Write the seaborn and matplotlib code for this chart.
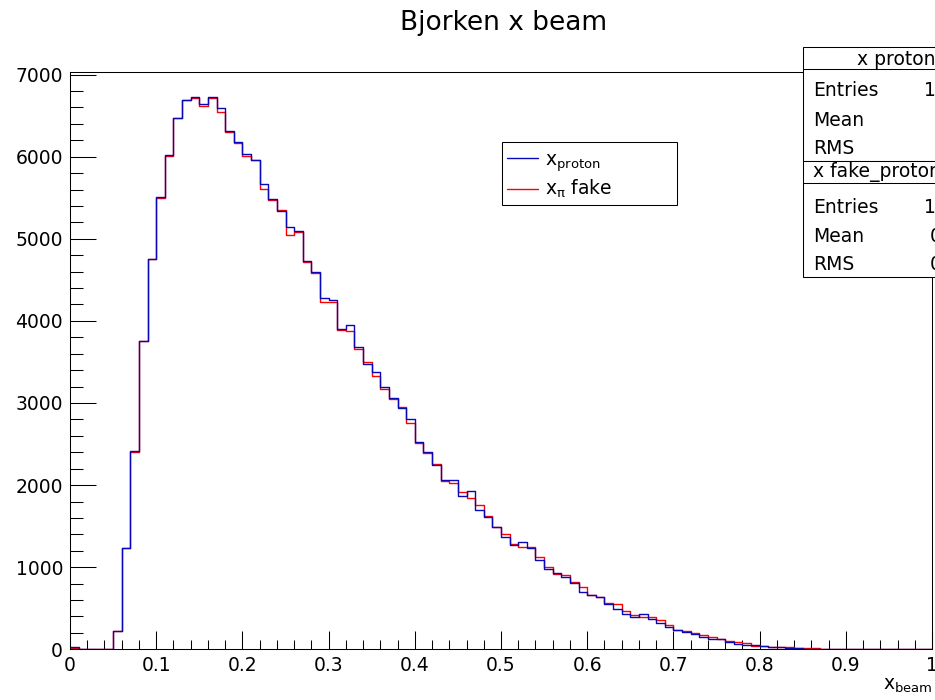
import numpy as np
import pandas as pd
import matplotlib
matplotlib.use("Agg")
import matplotlib.pyplot as plt
import seaborn as sns
from matplotlib.patches import Rectangle
from matplotlib.lines import Line2D
from matplotlib.ticker import MultipleLocator

# ---------------- data ----------------
n_bins = 100
x_min, x_max = 0.0, 1.0

proton_counts = [
    22, 6, 6, 6, 8, 223, 1239, 2410, 3760, 4756,
    5510, 6016, 6471, 6687, 6727, 6646, 6727, 6593, 6317, 6183,
    6037, 5960, 5664, 5485, 5343, 5147, 5095, 4735, 4593, 4276,
    4260, 3902, 3955, 3678, 3479, 3373, 3199, 3065, 2939, 2800,
    2524, 2398, 2244, 2065, 2065, 1870, 1932, 1692, 1617, 1495,
    1366, 1276, 1312, 1235, 1089, 979, 934, 886, 812, 699,
    658, 634, 552, 488, 430, 398, 427, 366, 320, 275,
    232, 205, 190, 154, 126, 130, 85, 65, 53, 49,
    37, 33, 24, 16, 12, 8, 4, 2, 1, 0,
    0, 0, 0, 0, 0, 0, 0, 0, 0, 0,
]
fake_counts = [
    20, 6, 6, 6, 8, 220, 1228, 2400, 3755, 4749,
    5498, 6008, 6468, 6690, 6711, 6617, 6719, 6549, 6305, 6163,
    6009, 5960, 5607, 5473, 5351, 5050, 5080, 4715, 4585, 4227,
    4235, 3894, 3882, 3662, 3504, 3333, 3171, 3044, 2955, 2751,
    2516, 2390, 2251, 2049, 2024, 1912, 1841, 1753, 1626, 1495,
    1402, 1284, 1248, 1251, 1129, 1007, 914, 906, 817, 763,
    666, 634, 568, 552, 471, 422, 398, 398, 360, 300,
    232, 222, 202, 175, 146, 122, 106, 89, 73, 45,
    45, 33, 24, 24, 20, 16, 12, 8, 6, 0,
    0, 0, 0, 0, 0, 0, 0, 0, 0, 0,
]

xtick_values = [0.0, 0.1, 0.2, 0.3, 0.4, 0.5, 0.6, 0.7, 0.8, 0.9, 1.0]
xtick_labels = ["0", "0.1", "0.2", "0.3", "0.4", "0.5", "0.6", "0.7", "0.8", "0.9", "1"]
ytick_values = [0, 1000, 2000, 3000, 4000, 5000, 6000, 7000]
ytick_labels = ["0", "1000", "2000", "3000", "4000", "5000", "6000", "7000"]

title_text = "Bjorken x beam"
xlabel_text = r"$\mathregular{x_{beam}}$"
legend_labels = [r"$\mathregular{x_{proton}}$", r"$\mathregular{x_{\pi}}$ fake"]
stats_titles = ["x proton", "x fake_proton"]
stats_rows = ["Entries", "Mean", "RMS"]
stats_values = [["100000", "0.3101", "0.1431"], ["100000", "0.3123", "0.1462"]]

# ---------------- style ----------------
sns.set_style("ticks")
plt.rcParams["font.family"] = ["DejaVu Sans"]
plt.rcParams["mathtext.fontset"] = "dejavusans"
plt.rcParams["text.color"] = "black"
plt.rcParams["axes.labelcolor"] = "black"
plt.rcParams["xtick.color"] = "black"
plt.rcParams["ytick.color"] = "black"
plt.rcParams["xtick.labelcolor"] = "black"
plt.rcParams["ytick.labelcolor"] = "black"

W, H = 935, 700
def fx(px):
    return px / W
def fy(py):
    return 1 - py / H

blue = "#0808b8"
red = "#ff0000"
lw = 1.0
fs = 13.5

fig = plt.figure(figsize=(W / 100, H / 100), dpi=100)
ax_left, ax_right, ax_top, ax_bottom = 70, 932, 71.7, 649.3
ax = fig.add_axes([fx(ax_left), fy(ax_bottom), fx(ax_right) - fx(ax_left),
                   fy(ax_top) - fy(ax_bottom)])

bin_width = (x_max - x_min) / n_bins
centers = x_min + bin_width * (np.arange(n_bins) + 0.5)
df = pd.DataFrame({"x": centers, "proton": proton_counts, "fake": fake_counts})

sns.histplot(data=df, x="x", weights="fake", binwidth=bin_width, binrange=(x_min, x_max),
             element="step", fill=False, color=red, linewidth=lw, ax=ax)
sns.histplot(data=df, x="x", weights="proton", binwidth=bin_width, binrange=(x_min, x_max),
             element="step", fill=False, color=blue, linewidth=lw, ax=ax)

ax.set_xlim(x_min, x_max)
ax.set_ylim(0, 7035)
ax.set_xticks(xtick_values, xtick_labels)
ax.set_yticks(ytick_values, ytick_labels)
ax.xaxis.set_minor_locator(MultipleLocator(0.02))
ax.yaxis.set_minor_locator(MultipleLocator(200))
ax.tick_params(axis="x", which="major", direction="in", length=13, width=0.75,
               labelsize=fs, pad=5, color="black", labelcolor="black")
ax.tick_params(axis="x", which="minor", direction="in", length=6.5, width=0.75,
               color="black")
ax.tick_params(axis="y", which="major", direction="in", length=18.7, width=0.75,
               labelsize=fs, pad=5, color="black", labelcolor="black")
ax.tick_params(axis="y", which="minor", direction="in", length=9, width=0.75,
               color="black")
for s in ax.spines.values():
    s.set_visible(True)
    s.set_linewidth(0.75)
    s.set_color("black")

ax.set_ylabel("")
ax.set_xlabel(xlabel_text, fontsize=fs, color="black")
ax.xaxis.set_label_coords(1.0, -(690 - ax_bottom) / (ax_bottom - ax_top))
ax.xaxis.label.set_horizontalalignment("right")
ax.xaxis.label.set_verticalalignment("baseline")

fig.text(fx(504), fy(30), title_text, ha="center", va="baseline", fontsize=19,
         color="black")

# ---------------- legend ----------------
leg_box = Rectangle((fx(501.7), fy(205)), fx(676.7) - fx(501.7), fy(141.7) - fy(205),
                    transform=fig.transFigure, facecolor="white", edgecolor="black",
                    linewidth=0.75, zorder=5)
fig.add_artist(leg_box)
for i, (col, ly, tb) in enumerate([(blue, 158.3, 165.7), (red, 189.3, 194.3)]):
    fig.add_artist(Line2D([fx(507), fx(538)], [fy(ly), fy(ly)], color=col, lw=lw,
                          transform=fig.transFigure, zorder=6))
    fig.text(fx(545), fy(tb), legend_labels[i], ha="left", va="baseline",
             fontsize=fs, zorder=6, color="black")

# ---------------- stats boxes ----------------
box_x0, box_x1 = 802.7, 1100
boxes = [(47.3, 69.3, 160.7), (160.7, 183.3, 276.7)]
title_pos = [(857, 65), (813, 176.5)]
row_base = [[96.5, 125.5, 154.5], [213, 241.5, 270]]
val_x = [[924, 1000, 1000], [924, 930, 930]]
for b, (top, div, bot) in enumerate(boxes):
    fig.add_artist(Rectangle((fx(box_x0), fy(bot)), fx(box_x1) - fx(box_x0), fy(top) - fy(bot),
                             transform=fig.transFigure, facecolor="white",
                             edgecolor="black", linewidth=0.75, zorder=5))
    fig.add_artist(Line2D([fx(box_x0), fx(box_x1)], [fy(div), fy(div)], color="black",
                          lw=0.75, transform=fig.transFigure, zorder=6))
    fig.text(fx(title_pos[b][0]), fy(title_pos[b][1]), stats_titles[b], ha="left",
             va="baseline", fontsize=fs, zorder=7, color="black")
    for r, name in enumerate(stats_rows):
        fig.text(fx(813), fy(row_base[b][r]), name, ha="left", va="baseline",
                 fontsize=fs, zorder=7, color="black")
        fig.text(fx(val_x[b][r]), fy(row_base[b][r]), stats_values[b][r], ha="left",
                 va="baseline", fontsize=fs, zorder=7, color="black")

fig.savefig("out.png", dpi=100)
